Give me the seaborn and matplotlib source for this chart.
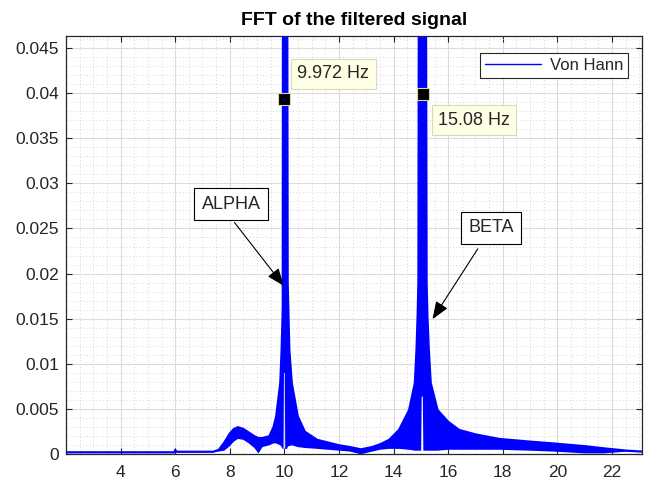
import matplotlib
matplotlib.use('Agg')
import matplotlib.pyplot as plt
import seaborn as sns
from matplotlib.ticker import MultipleLocator, AutoMinorLocator, FuncFormatter
from matplotlib.lines import Line2D

# frequency axis (Hz) and the upper / lower edge of the dense FFT trace
freq = [2.0, 5.98, 6.0, 6.03, 7.4, 7.6, 7.8, 8.0, 8.15, 8.3, 8.5, 8.7, 8.9, 9.05,
        9.2, 9.45, 9.6, 9.7, 9.85, 9.9, 9.94, 9.95, 9.97, 9.985, 10.015, 10.03,
        10.1, 10.12, 10.15, 10.18, 10.27, 10.49, 10.75, 11.2, 11.6, 12.0, 12.4,
        12.8, 13.22, 13.5, 13.84, 14.2, 14.57, 14.78, 14.84, 14.88, 14.91, 14.93,
        15.01, 15.03, 15.07, 15.09, 15.18, 15.21, 15.24, 15.29, 15.36, 15.61, 16.0,
        16.4, 17.0, 17.87, 19.0, 19.85, 21.0, 21.7, 22.55, 23.1]
amp_upper = [0.00022, 0.00022, 0.0005, 0.00028, 0.00028, 0.0005, 0.0013, 0.0023,
             0.0028, 0.0030, 0.0028, 0.0024, 0.0020, 0.0018, 0.0018, 0.0020, 0.0030,
             0.0042, 0.0079, 0.0116, 0.0160, 0.06, 0.06, 0.06, 0.06, 0.06,
             0.06, 0.019, 0.0152, 0.0116, 0.0079, 0.0042, 0.0025, 0.0016, 0.0013,
             0.0010, 0.0008, 0.00055, 0.0008, 0.0011, 0.0016, 0.0027, 0.0049, 0.0079,
             0.0116, 0.0152, 0.019, 0.06, 0.06, 0.06, 0.06, 0.06, 0.06, 0.019,
             0.0152, 0.0116, 0.0079, 0.0049, 0.0036, 0.0027, 0.0022, 0.0017, 0.0014,
             0.0012, 0.0009, 0.00066, 0.0004, 0.0003]
amp_lower = [0.00022, 0.00022, 0.0005, 0.00028, 0.00028, 0.0003, 0.0004, 0.0009,
             0.0014, 0.0017, 0.0016, 0.0012, 0.0007, 0.0001, 0.0008, 0.0010, 0.0012,
             0.0012, 0.0010, 0.0008, 0.0006, 0.0006, 0.0006, 0.009, 0.009, 0.0006,
             0.0006, 0.0008, 0.0009, 0.0009, 0.0010, 0.0008, 0.0007, 0.0006, 0.0005,
             0.0004, 0.0003, 0.0, 0.0003, 0.0005, 0.0006, 0.0006, 0.0005, 0.0004,
             0.0004, 0.0004, 0.0004, 0.0004, 0.0004, 0.0064, 0.0064, 0.0004, 0.0004,
             0.0004, 0.0004, 0.0004, 0.0004, 0.0004, 0.0005, 0.0005, 0.0005, 0.0005,
             0.0004, 0.0003, 0.0001, 0.0001, 0.0003, 0.0003]

# data tips and annotations
tip_freq = [9.972, 15.08]
tip_amp = [0.0393, 0.0399]
tip_labels = ['9.972 Hz', '15.08 Hz']

sns.set_theme(style='white')
plt.rcParams['font.family'] = ['Liberation Sans', 'DejaVu Sans']

fig = plt.figure(figsize=(6.49, 4.82), dpi=100)
ax = fig.add_axes([66 / 649, 27.7 / 482, 576 / 649, 418.3 / 482])

ax.fill_between(freq, amp_lower, amp_upper, color='#0000ff', linewidth=0, zorder=2)
sns.lineplot(x=freq, y=amp_upper, ax=ax, color='#0000ff', linewidth=1.6,
             estimator=None, sort=False, zorder=3)

ax.set_xlim(2, 23.1)
ax.set_ylim(0, 0.0463)
ax.xaxis.set_major_locator(MultipleLocator(2))
ax.yaxis.set_major_locator(MultipleLocator(0.005))
ax.xaxis.set_minor_locator(AutoMinorLocator(4))
ax.yaxis.set_minor_locator(AutoMinorLocator(5))
ax.xaxis.set_major_formatter(FuncFormatter(lambda v, p: '%g' % round(v, 4)))
ax.yaxis.set_major_formatter(FuncFormatter(lambda v, p: '%g' % round(v, 4)))
ax.set_xticks([4, 6, 8, 10, 12, 14, 16, 18, 20, 22])

ax.grid(which='major', color='#dcdcdc', linewidth=0.8, linestyle='-', zorder=0)
ax.grid(which='minor', color='#c8c8c8', linewidth=0.6, linestyle=(0, (1, 3)), zorder=0)
ax.set_axisbelow(True)
ax.tick_params(which='both', direction='in', top=True, right=True, bottom=True, left=True,
               colors='#262626', labelsize=12.5, length=4, width=0.8)
ax.tick_params(axis='y', pad=5)
ax.tick_params(axis='x', pad=8)
ax.tick_params(which='minor', length=0)
for s in ax.spines.values():
    s.set_color('#262626')
    s.set_linewidth(0.9)

ax.set_title('FFT of the filtered signal', fontsize=14, fontweight='bold', color='black', pad=8)

# data tips
box_tip = dict(boxstyle='square,pad=0.35', facecolor='#ffffe6', edgecolor='#d9d9c0', lw=0.8)
ax.scatter(tip_freq, tip_amp, marker='s', s=70, color='black', edgecolor='#d8d8a0',
           linewidth=0.8, zorder=5)
ax.text(10.48, 0.0421, tip_labels[0], fontsize=13, va='center', ha='left', color='#262626',
        bbox=box_tip, zorder=6)
ax.text(15.63, 0.0370, tip_labels[1], fontsize=13, va='center', ha='left', color='#262626',
        bbox=box_tip, zorder=6)

# text arrows
box_txt = dict(boxstyle='square,pad=0.4', facecolor='white', edgecolor='black', lw=0.8)
ax.annotate('', xy=(10.04, 0.0184), xytext=(8.11, 0.0259),
            arrowprops=dict(arrowstyle='-|>,head_length=0.9,head_width=0.35', color='black', lw=0.8),
            zorder=6)
ax.text(8.05, 0.0277, 'ALPHA', fontsize=13, ha='center', va='center', color='#262626',
        bbox=box_txt, zorder=7)
ax.annotate('', xy=(15.37, 0.0147), xytext=(17.14, 0.0230),
            arrowprops=dict(arrowstyle='-|>,head_length=0.9,head_width=0.35', color='black', lw=0.8),
            zorder=6)
ax.text(17.57, 0.02506, 'BETA', fontsize=13, ha='center', va='center', color='#262626',
        bbox=box_txt, zorder=7)

handle = Line2D([], [], color='#0000ff', linewidth=1.0)
leg = ax.legend([handle], ['Von Hann'], loc='upper right', bbox_to_anchor=(0.976, 0.959),
                borderaxespad=0, fontsize=12, frameon=True, fancybox=False, framealpha=1,
                edgecolor='#262626', handlelength=3.4, borderpad=0.3, handletextpad=0.5)
leg.get_frame().set_linewidth(0.8)
for t in leg.get_texts():
    t.set_color('#262626')

fig.savefig('out.png', dpi=100, facecolor='white')
